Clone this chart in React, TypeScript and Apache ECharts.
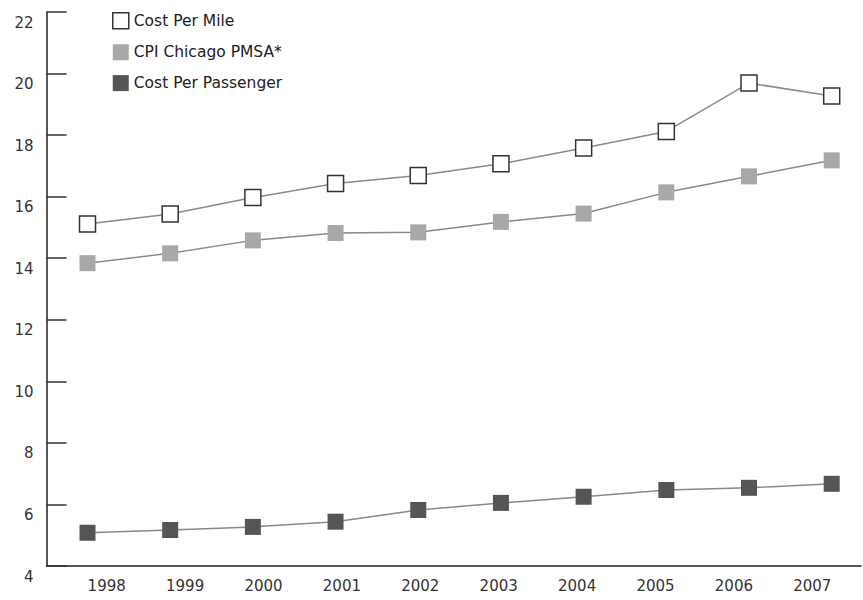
import React, { useEffect, useRef } from "react";
import * as echarts from "echarts";

const categories = ["1998", "1999", "2000", "2001", "2002", "2003", "2004", "2005", "2006", "2007"];
const costPerMile = [15.11, 15.44, 15.97, 16.43, 16.69, 17.07, 17.58, 18.12, 19.69, 19.27];
const cpiChicago = [13.84, 14.16, 14.58, 14.82, 14.84, 15.18, 15.45, 16.14, 16.66, 17.18];
const costPerPassenger = [5.08, 5.17, 5.27, 5.44, 5.82, 6.05, 6.25, 6.47, 6.54, 6.67];
const seriesNames = ["Cost Per Mile", "CPI Chicago PMSA*", "Cost Per Passenger"];

const FONT = "DejaVu Sans";
const LINE_COLOR = "#8a8a8a";

export default function App() {
  const ref = useRef<HTMLDivElement>(null);

  useEffect(() => {
    if (!ref.current) return;
    const chart = echarts.init(ref.current, undefined, { renderer: "svg" });
    const itemStyles = [
      { color: "#ffffff", borderColor: "#333333", borderWidth: 1.5 },
      { color: "#a8a8ab", borderWidth: 0 },
      { color: "#555558", borderWidth: 0 },
    ];
    const datasets = [costPerMile, cpiChicago, costPerPassenger];
    chart.setOption({
      animation: false,
      backgroundColor: "#ffffff",
      textStyle: { fontFamily: FONT },
      legend: {
        orient: "vertical",
        left: 112,
        top: 12,
        padding: 0,
        itemWidth: 16,
        itemHeight: 16,
        itemGap: 14.8,
        icon: "rect",
        textStyle: { fontSize: 15.5, color: "#222", fontFamily: FONT },
        data: seriesNames.map((n, i) => ({ name: n, itemStyle: itemStyles[i] })),
      },
      grid: [
        { left: 87.5, right: 31.3, top: 12, bottom: 34 },
        { left: 67.5, right: 11.5, top: 12, bottom: 34 },
        { left: 46.5, right: 2, top: 12, bottom: 34 },
      ],
      xAxis: [
        { gridIndex: 0, type: "category", data: categories, boundaryGap: false, show: false },
        {
          gridIndex: 1,
          type: "category",
          data: categories,
          boundaryGap: true,
          axisLine: { show: false },
          axisTick: { show: false },
          axisLabel: { margin: 12, fontSize: 15, color: "#333", fontFamily: FONT },
          splitLine: { show: false },
        },
        {
          gridIndex: 2,
          type: "value",
          min: 0,
          max: 1,
          axisLine: { show: true, onZero: false, lineStyle: { color: "#222", width: 1.5 } },
          axisTick: { show: false },
          axisLabel: { show: false },
          splitLine: { show: false },
        },
      ],
      yAxis: [
        {
          gridIndex: 0,
          type: "value",
          min: 4,
          max: 22,
          interval: 2,
          offset: 41,
          axisLine: { show: true, lineStyle: { color: "#222", width: 1.5 } },
          axisTick: { show: true, inside: true, length: 20, lineStyle: { color: "#333", width: 1.5 } },
          axisLabel: {
            margin: 13,
            fontSize: 15,
            color: "#333",
            fontFamily: FONT,
            verticalAlign: "top",
            padding: [3, 0, 0, 0],
          },
          splitLine: { show: false },
        },
        { gridIndex: 1, type: "value", show: false },
        { gridIndex: 2, type: "value", show: false },
      ],
      series: datasets.map((d, i) => ({
        name: seriesNames[i],
        type: "line",
        xAxisIndex: 0,
        yAxisIndex: 0,
        data: d,
        clip: false,
        symbol: "rect",
        symbolSize: 16,
        showAllSymbol: true,
        lineStyle: { color: LINE_COLOR, width: 1.5 },
        itemStyle: itemStyles[i],
        z: 2 + i,
      })),
    });
    return () => chart.dispose();
  }, []);

  return (
    <div
      ref={ref}
      style={{ position: "fixed", left: 0, top: 0, width: 863, height: 600, background: "#fff" }}
    />
  );
}
